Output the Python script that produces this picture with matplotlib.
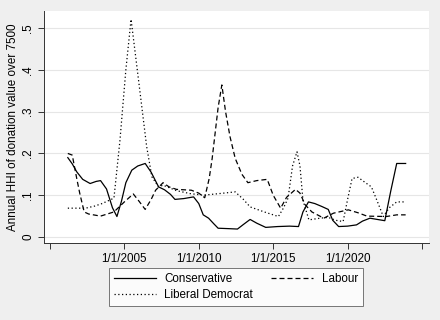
import matplotlib
matplotlib.use("Agg")
import matplotlib.pyplot as plt

plt.rcParams.update({
    "font.family": ["Liberation Sans", "DejaVu Sans"],
    "font.size": 8.4,
})

# ── Data (fractional year, annual HHI) ─────────────────────────────────────────

con_year = [2001.2, 2001.5, 2001.8, 2002.2, 2002.7, 2003.1, 2003.4, 2003.8, 2004.2,
            2004.5, 2004.8, 2005.1, 2005.5, 2005.9, 2006.4, 2006.8, 2007.3, 2007.7,
            2008.1, 2008.4, 2009.0, 2009.65, 2010.0, 2010.3, 2010.66, 2011.0, 2011.3,
            2012.0, 2012.6, 2013.0, 2013.45, 2013.9, 2014.5, 2015.3, 2016.1, 2016.7,
            2017.0, 2017.37, 2017.8, 2018.27, 2018.7, 2019.0, 2019.4, 2020.0, 2020.6,
            2021.0, 2021.5, 2022.0, 2022.5, 2022.9, 2023.3, 2023.9]
con_hhi = [0.19, 0.175, 0.156, 0.138, 0.128, 0.133, 0.135, 0.115, 0.07,
           0.049, 0.085, 0.13, 0.16, 0.17, 0.176, 0.155, 0.12, 0.113,
           0.102, 0.09, 0.092, 0.096, 0.08, 0.053, 0.045, 0.032, 0.021,
           0.02, 0.019, 0.03, 0.042, 0.033, 0.023, 0.025, 0.026, 0.025,
           0.06, 0.084, 0.08, 0.073, 0.066, 0.04, 0.025, 0.026, 0.029,
           0.038, 0.045, 0.042, 0.039, 0.11, 0.176, 0.176]

lab_year = [2001.2, 2001.5, 2001.8, 2002.0, 2002.3, 2002.6, 2003.4, 2004.3, 2005.0,
            2005.6, 2006.0, 2006.4, 2006.8, 2007.1, 2007.6, 2008.0, 2008.5, 2009.5,
            2010.0, 2010.4, 2010.7, 2010.9, 2011.3, 2011.55, 2011.8, 2012.1, 2012.45,
            2012.9, 2013.3, 2013.9, 2014.6, 2015.0, 2015.5, 2015.9, 2016.5, 2016.8,
            2017.15, 2017.6, 2018.4, 2019.05, 2020.05, 2020.7, 2021.3, 2022.6, 2023.3,
            2023.9]
lab_hhi = [0.2, 0.196, 0.14, 0.105, 0.06, 0.055, 0.05, 0.06, 0.084,
           0.103, 0.085, 0.066, 0.09, 0.112, 0.13, 0.12, 0.114, 0.112,
           0.105, 0.094, 0.14, 0.188, 0.31, 0.364, 0.3, 0.24, 0.188,
           0.15, 0.13, 0.135, 0.138, 0.1, 0.069, 0.095, 0.114, 0.105,
           0.077, 0.06, 0.045, 0.057, 0.065, 0.058, 0.05, 0.049, 0.053,
           0.053]

lib_year = [2001.2, 2002.4, 2003.0, 2003.5, 2004.3, 2004.7, 2005.1, 2005.45, 2005.8,
            2006.5, 2006.85, 2007.3, 2007.6, 2008.5, 2009.4, 2010.3, 2011.4, 2012.45,
            2013.0, 2013.45, 2014.4, 2015.35, 2015.7, 2016.0, 2016.3, 2016.6, 2016.8,
            2017.0, 2017.4, 2018.15, 2018.7, 2019.2, 2019.7, 2020.0, 2020.3, 2020.7,
            2021.2, 2021.6, 2022.0, 2022.4, 2022.8, 2023.3, 2023.9]
lib_hhi = [0.069, 0.069, 0.074, 0.08, 0.093, 0.23, 0.40, 0.521, 0.42,
           0.216, 0.144, 0.12, 0.124, 0.111, 0.104, 0.1, 0.104, 0.108,
           0.09, 0.072, 0.06, 0.049, 0.07, 0.093, 0.17, 0.204, 0.17,
           0.088, 0.041, 0.045, 0.047, 0.04, 0.037, 0.09, 0.14, 0.143,
           0.13, 0.12, 0.085, 0.049, 0.07, 0.084, 0.084]

x_ticks = [2000, 2005, 2010, 2015, 2020, 2025]
x_labels = ["", "1/1/2005", "1/1/2010", "1/1/2015", "1/1/2020", ""]
y_ticks = [0, 0.1, 0.2, 0.3, 0.4, 0.5]
y_labels = ["0", ".1", ".2", ".3", ".4", ".5"]

# ── Figure ─────────────────────────────────────────────────────────────────────

fig = plt.figure(figsize=(4.4, 3.2), dpi=100, facecolor="#EFEFEF")
ax = fig.add_axes([0.1, 0.2406, 0.875, 0.725])
ax.set_facecolor("white")

l_con, = ax.plot(con_year, con_hhi, color="black", lw=0.9, label="Conservative")
l_lab, = ax.plot(lab_year, lab_hhi, color="black", lw=0.9, dashes=(4, 2.4), label="Labour")
l_lib, = ax.plot(lib_year, lib_hhi, color="black", lw=0.9, dashes=(1, 2), label="Liberal Democrat")

ax.set_xlim(1999.6, 2025.47)
ax.set_ylim(-0.0144, 0.541)
ax.set_xticks(x_ticks)
ax.set_xticklabels(x_labels)
ax.set_yticks(y_ticks)
ax.set_yticklabels(y_labels, rotation=90, va="center")
ax.set_ylabel("Annual HHI of donation value over 7500", labelpad=2)

ax.grid(axis="y", color="#E6E6E6", lw=0.8)
ax.set_axisbelow(True)
for side in ["top", "right"]:
    ax.spines[side].set_visible(False)
for side in ["left", "bottom"]:
    ax.spines[side].set_color("#333333")
    ax.spines[side].set_linewidth(0.7)
ax.tick_params(length=4, width=0.7, color="#333333", pad=3)

# column-wise fill: Conservative / Liberal Democrat in col 1, Labour in col 2
leg = fig.legend([l_con, l_lib, l_lab], ["Conservative", "Liberal Democrat", "Labour"],
                 ncol=2, loc="center", bbox_to_anchor=(0.536, 0.103),
                 frameon=True, fancybox=False, edgecolor="#555555",
                 handlelength=3.6, columnspacing=1.6, handletextpad=0.7,
                 borderpad=0.45, labelspacing=0.35, fontsize=8.4)
leg.get_frame().set_linewidth(0.7)

fig.savefig("out.png", dpi=100, facecolor=fig.get_facecolor())
